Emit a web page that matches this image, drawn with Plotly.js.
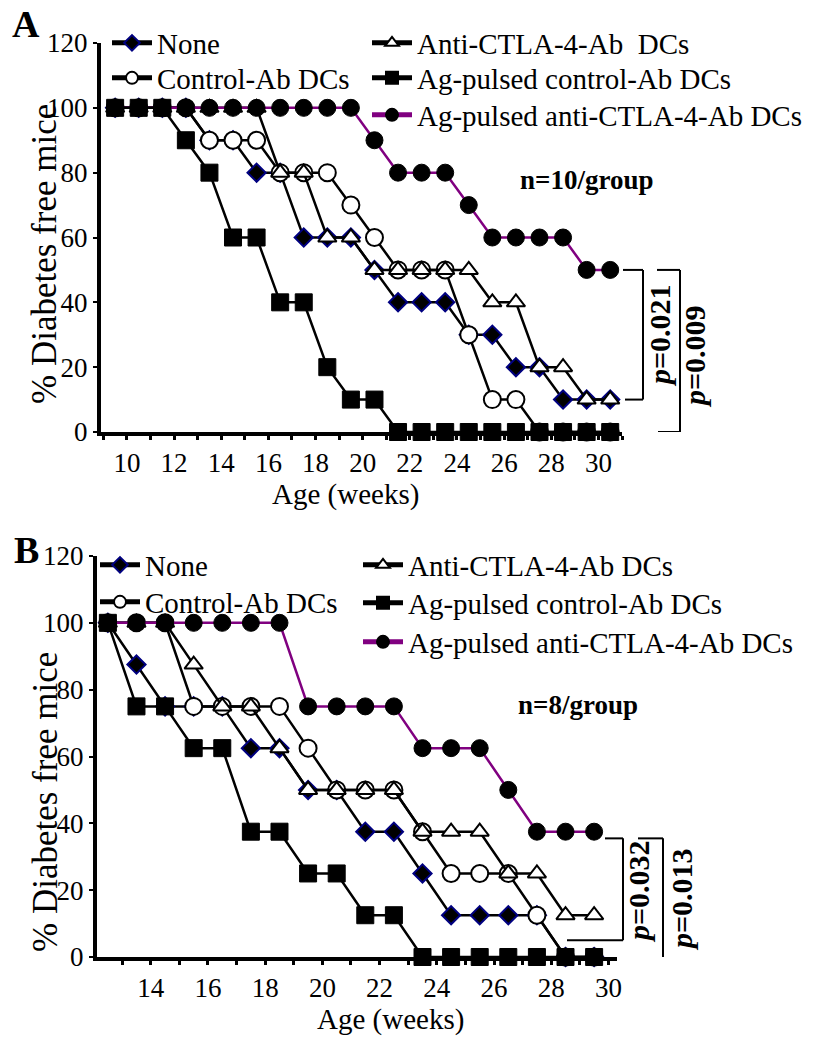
<!DOCTYPE html>
<html>
<head>
<meta charset="utf-8">
<script src="https://cdn.plot.ly/plotly-3.0.1.min.js"></script>
<style>
  html, body { margin: 0; padding: 0; background: #fff; }
  #chart { width: 814px; height: 1050px; }
</style>
</head>
<body>
<div id="chart"></div>
<script>
// -------------------- DATA --------------------
// Panel A (n=10/group), ages in weeks
const agesA = [9.5, 10.5, 11.5, 12.5, 13.5, 14.5, 15.5, 16.5, 17.5, 18.5, 19.5,
               20.5, 21.5, 22.5, 23.5, 24.5, 25.5, 26.5, 27.5, 28.5, 29.5, 30.5];
const noneA      = [100, 100, 100, 100, 90, 90, 80, 80, 60, 60, 60, 50, 40, 40, 40, 30, 30, 20, 20, 10, 10, 10];
const ctrlAbA    = [100, 100, 100, 100, 90, 90, 90, 80, 80, 80, 70, 60, 50, 50, 50, 30, 10, 10, 0, 0, 0, 0];
const antiCtlaA  = [100, 100, 100, 100, 100, 100, 100, 80, 80, 60, 60, 50, 50, 50, 50, 50, 40, 40, 20, 20, 10, 10];
const agCtrlA    = [100, 100, 100, 90, 80, 60, 60, 40, 40, 20, 10, 10, 0, 0, 0, 0, 0, 0, 0, 0, 0, 0];
const agAntiA    = [100, 100, 100, 100, 100, 100, 100, 100, 100, 100, 100, 90, 80, 80, 80, 70, 60, 60, 60, 60, 50, 50];

// Panel B (n=8/group)
const agesB = [12.5, 13.5, 14.5, 15.5, 16.5, 17.5, 18.5, 19.5, 20.5,
               21.5, 22.5, 23.5, 24.5, 25.5, 26.5, 27.5, 28.5, 29.5];
const noneB      = [100, 87.5, 75, 75, 75, 62.5, 62.5, 50, 50, 37.5, 37.5, 25, 12.5, 12.5, 12.5, 12.5, 0, 0];
const ctrlAbB    = [100, 100, 100, 75, 75, 75, 75, 62.5, 50, 50, 50, 37.5, 25, 25, 25, 12.5, 0, 0];
const antiCtlaB  = [100, 100, 100, 87.5, 75, 75, 62.5, 50, 50, 50, 50, 37.5, 37.5, 37.5, 25, 25, 12.5, 12.5];
const agCtrlB    = [100, 75, 75, 62.5, 62.5, 37.5, 37.5, 25, 25, 12.5, 12.5, 0, 0, 0, 0, 0, 0, 0];
const agAntiB    = [100, 100, 100, 100, 100, 100, 100, 75, 75, 75, 75, 62.5, 62.5, 62.5, 50, 37.5, 37.5, 37.5];

const groupNames = ["None", "Control-Ab DCs", "Anti-CTLA-4-Ab DCs",
                    "Ag-pulsed control-Ab DCs", "Ag-pulsed anti-CTLA-4-Ab DCs"];
const yTicks = [0, 20, 40, 60, 80, 100, 120];
const xTicksA = [10, 12, 14, 16, 18, 20, 22, 24, 26, 28, 30];
const xTicksB = [14, 16, 18, 20, 22, 24, 26, 28, 30];

// -------------------- STYLE --------------------
const FONT = "Liberation Serif, Times New Roman, serif";
const NAVY = "#000080";
const PURPLE = "#800080";

const styles = {
    none:   { symbol: "diamond", size: 14, color: "#000", line: { color: NAVY, width: 2 } },
    ctrl:   { symbol: "circle", size: 17, color: "#fff", line: { color: "#000", width: 2 } },
    anti:   { symbol: "triangle-up", size: 16, color: "#fff", line: { color: "#000", width: 2 } },
    agCtrl: { symbol: "square", size: 17, color: "#000", line: { color: "#000", width: 1 } },
    agAnti: { symbol: "circle", size: 17, color: "#000", line: { color: "#000", width: 1 } }
};

function series(x, y, name, st, lineColor, xa, ya, legend) {
    return {
        x: x, y: y, name: name,
        type: "scatter", mode: "lines+markers",
        xaxis: xa, yaxis: ya,
        legend: legend,
        cliponaxis: false,
        line: { color: lineColor, width: 2.5 },
        marker: st
    };
}

// drawing order: None, Control, Anti, Ag-anti, Ag-control (squares on top)
// every trace has its own legend box so the two-column key can be placed freely
const traces = [
    series(agesA, noneA, groupNames[0], styles.none, "#000", "x", "y", "legend"),
    series(agesA, ctrlAbA, groupNames[1], styles.ctrl, "#000", "x", "y", "legend2"),
    series(agesA, antiCtlaA, "Anti-CTLA-4-Ab\u00a0 DCs", styles.anti, "#000", "x", "y", "legend3"),
    series(agesA, agAntiA, groupNames[4], styles.agAnti, PURPLE, "x", "y", "legend5"),
    series(agesA, agCtrlA, groupNames[3], styles.agCtrl, "#000", "x", "y", "legend4"),

    series(agesB, noneB, groupNames[0], styles.none, "#000", "x2", "y2", "legend6"),
    series(agesB, ctrlAbB, groupNames[1], styles.ctrl, "#000", "x2", "y2", "legend7"),
    series(agesB, antiCtlaB, groupNames[2], styles.anti, "#000", "x2", "y2", "legend8"),
    series(agesB, agAntiB, groupNames[4], styles.agAnti, PURPLE, "x2", "y2", "legend10"),
    series(agesB, agCtrlB, groupNames[3], styles.agCtrl, "#000", "x2", "y2", "legend9")
];

// -------------------- LAYOUT --------------------
const W = 814, H = 1050;
const px = v => v / W;
const py = v => 1 - v / H;

function xAxis(domain, range, ticks, anchor) {
    return {
        domain: domain, range: range, anchor: anchor,
        showline: true, linewidth: 4, linecolor: "#000",
        showgrid: false, zeroline: false,
        tickmode: "array", tickvals: ticks,
        ticks: "outside", ticklen: 4, tickwidth: 3, tickcolor: "#000",
        minor: { dtick: 1, tick0: 0, ticks: "outside", ticklen: 4, tickwidth: 3, tickcolor: "#000" },
        tickfont: { family: FONT, size: 27, color: "#000" }
    };
}
function yAxis(domain, anchor) {
    return {
        domain: domain, range: [0, 120], anchor: anchor,
        showline: true, linewidth: 4, linecolor: "#000",
        showgrid: false, zeroline: false,
        tickmode: "array", tickvals: yTicks,
        ticks: "outside", ticklen: 4, tickwidth: 2, tickcolor: "#000",
        tickfont: { family: FONT, size: 27, color: "#000" }
    };
}
// textX = where the label text starts, yc = vertical centre of the entry
function legendAt(textX, yc) {
    return {
        x: px(textX - 50), y: py(yc), xanchor: "left", yanchor: "middle",
        bgcolor: "rgba(0,0,0,0)", borderwidth: 0,
        font: { family: FONT, size: 29, color: "#000" },
        itemsizing: "constant", itemwidth: 40
    };
}

const textFont = (size, bold) => ({ family: FONT, size: size, color: "#000", weight: bold ? "bold" : "normal" });

function note(x, y, text, size, angle, bold) {
    return {
        xref: "paper", yref: "paper", x: px(x), y: py(y),
        xanchor: "center", yanchor: "middle", showarrow: false,
        text: text, textangle: angle || 0, font: textFont(size, bold)
    };
}

function bracket(yref, x0, x1, yTop, yBottom, xLeftBottom) {
    const ln = { color: "#000", width: 2 };
    return [
        { type: "line", xref: "paper", yref: yref, x0: px(x0), x1: px(x1), y0: yTop, y1: yTop, line: ln },
        { type: "line", xref: "paper", yref: yref, x0: px(x1), x1: px(x1), y0: yTop, y1: yBottom, line: ln },
        { type: "line", xref: "paper", yref: yref, x0: px(xLeftBottom), x1: px(x1), y0: yBottom, y1: yBottom, line: ln }
    ];
}

const layout = {
    width: W, height: H,
    margin: { l: 0, r: 0, t: 0, b: 0 },
    paper_bgcolor: "#fff", plot_bgcolor: "rgba(0,0,0,0)",
    showlegend: true,
    xaxis: xAxis([px(101), px(622)], [8.9, 31.0], xTicksA, "y"),
    yaxis: yAxis([py(432), py(43)], "x"),
    xaxis2: xAxis([px(97), px(617)], [12.12, 30.3], xTicksB, "y2"),
    yaxis2: yAxis([py(957), py(556)], "x2"),
    legend: legendAt(157, 43),
    legend2: legendAt(157, 78),
    legend3: legendAt(417, 43),
    legend4: legendAt(417, 78),
    legend5: legendAt(417, 115),
    legend6: legendAt(145, 565),
    legend7: legendAt(145, 602),
    legend8: legendAt(408, 565),
    legend9: legendAt(408, 603),
    legend10: legendAt(408, 642),
    annotations: [
        note(26, 24, "A", 38, 0, true),
        note(26, 550, "B", 38, 0, true),
        note(45, 254, "% Diabetes free mice", 35, -90),
        note(45, 802, "% Diabetes free mice", 35, -90),
        note(345, 494, "Age (weeks)", 29),
        note(390, 1019, "Age (weeks)", 29),
        note(586, 180, "n=10/group", 27, 0, true),
        note(578, 705, "n=8/group", 27, 0, true),
        note(659, 336, "<i>p</i>=0.021", 30, -90, true),
        note(694, 357, "<i>p</i>=0.009", 30, -90, true),
        note(638, 892, "<i>p</i>=0.032", 30, -90, true),
        note(681, 900, "<i>p</i>=0.013", 30, -90, true)
    ],
    shapes: [].concat(
        bracket("y", 623, 643, 50, 10, 625),
        bracket("y", 657, 680, 50, 0, 658),
        bracket("y2", 605, 623, 35.5, 5, 567),
        bracket("y2", 638, 663, 35.5, -1, 638)
    )
};

Plotly.newPlot("chart", traces, layout, { staticPlot: true, displayModeBar: false });
</script>
</body>
</html>
